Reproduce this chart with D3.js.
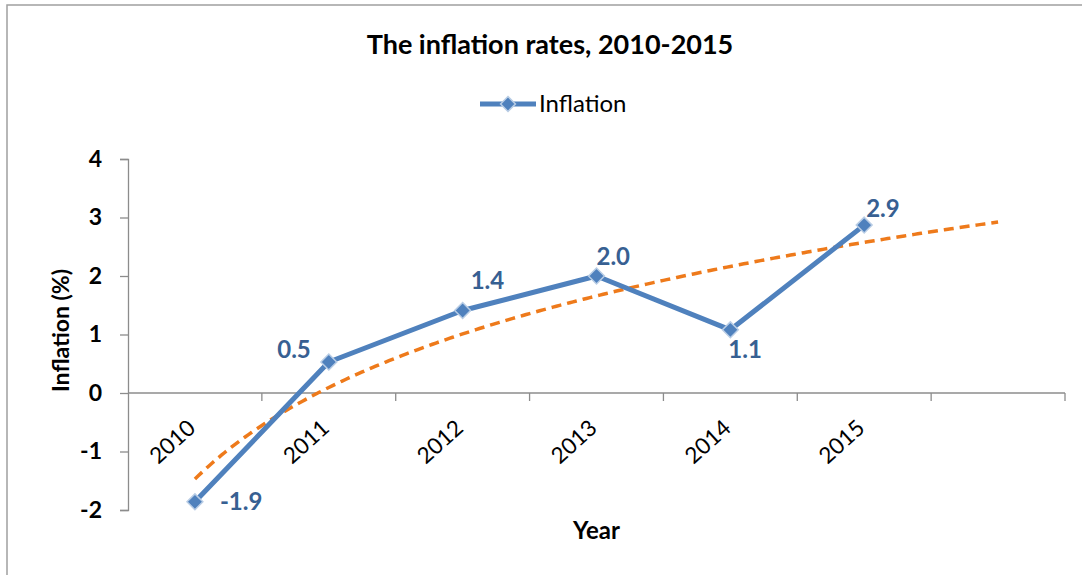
<!DOCTYPE html>
<html><head><meta charset="utf-8">
<script src="https://cdn.jsdelivr.net/npm/d3@7"></script>
<style>
html,body{margin:0;padding:0;background:#fff;}
svg{display:block;font-family:Lato,"Open Sans",sans-serif;}
</style></head>
<body><svg id="c" width="1082" height="575"></svg>
<script>
// ---- data ----
const years = ["2010","2011","2012","2013","2014","2015"];
const inflation = [-1.86, 0.53, 1.41, 2.0, 1.08, 2.87];
const forecastPeriods = 1;           // trendline forward forecast (one period)
const yTicks = [-2,-1,0,1,2,3,4];
const titleText = "The inflation rates, 2010-2015";
const seriesName = "Inflation";
const xTitle = "Year";
const yTitle = "Inflation (%)";

// ---- layout ----
const svg = d3.select("#c");
const L = 128, R = 1065, T = 159, B = 510;
const nSlots = years.length + forecastPeriods;
const x = d3.scaleBand().domain(d3.range(nSlots)).range([L, R]);
const y = d3.scaleLinear().domain([-2, 4]).range([B, T]);
const cx = i => x(i) + x.bandwidth()/2;
const fmt = v => d3.format(".1f")(v).replace("\u2212","-");
const diamond = d3.symbolDiamond2 ? d3.symbolDiamond2 : d3.symbolDiamond;

const blue = "#4F81BD", labelBlue = "#376092", orange = "#EE7A1B", axisCol = "#8C8C8C";

// chart border
svg.append("rect").attr("x",7).attr("y",5).attr("width",1200).attr("height",700)
  .attr("fill","none").attr("stroke","#A0A0A0").attr("stroke-width",1.5);

// title
svg.append("text").attr("x",550).attr("y",54).attr("text-anchor","middle")
  .attr("font-size",27).attr("font-weight","bold").attr("fill","#000").text(titleText);

// legend
const lg = svg.append("g");
lg.append("line").attr("x1",480).attr("x2",536).attr("y1",104).attr("y2",104)
  .attr("stroke",blue).attr("stroke-width",5);
lg.append("path").attr("d",d3.symbol(diamond, 140)())
  .attr("transform","translate(508,104)").attr("fill",blue).attr("stroke","#B9CDE5").attr("stroke-width",1.5);
lg.append("text").attr("x",539).attr("y",104).attr("dy","0.35em").attr("font-size",24)
  .attr("fill","#000").text(seriesName);

// y axis
const yAxis = svg.append("g").attr("transform",`translate(${L},0)`)
  .call(d3.axisLeft(y).tickValues(yTicks).tickSize(8).tickPadding(18).tickFormat(d => String(d)));
yAxis.select(".domain").attr("stroke",axisCol).attr("stroke-width",1.3);
yAxis.selectAll(".tick line").attr("stroke",axisCol).attr("stroke-width",1.3);
yAxis.selectAll(".tick text").attr("font-size",23).attr("font-weight","bold")
  .attr("fill","#000").attr("font-family","Lato,sans-serif");

// x axis at y=0
const y0 = y(0);
const xg = svg.append("g");
xg.append("line").attr("x1",L).attr("x2",R).attr("y1",y0).attr("y2",y0)
  .attr("stroke",axisCol).attr("stroke-width",1.3);
const bounds = d3.range(1, nSlots+1).map(i => i < nSlots ? x(i) : x(nSlots-1)+x.bandwidth());
xg.selectAll("line.tk").data(bounds).join("line").attr("class","tk")
  .attr("x1",d=>d).attr("x2",d=>d).attr("y1",y0).attr("y2",y0+8)
  .attr("stroke",axisCol).attr("stroke-width",1.3);
xg.selectAll("text.xl").data(years).join("text").attr("class","xl")
  .attr("transform",(d,i)=>`translate(${cx(i)+2},${y0+37}) rotate(-42)`)
  .attr("text-anchor","end").attr("font-size",22.5).attr("fill","#000").text(d=>d);

// axis titles
svg.append("text").attr("x",L + (R-L)/2).attr("y",539).attr("text-anchor","middle")
  .attr("font-size",24).attr("font-weight","bold").text(xTitle);
svg.append("text").attr("transform",`translate(69,${(T+B)/2-4}) rotate(-90)`).attr("text-anchor","middle")
  .attr("font-size",23).attr("font-weight","bold").text(yTitle);

// logarithmic trendline: least squares y = a ln(k) + b, k = 1..n
const ks = inflation.map((v,i)=>Math.log(i+1));
const mk = d3.mean(ks), mv = d3.mean(inflation);
const a = d3.sum(ks.map((k,i)=>(k-mk)*(inflation[i]-mv))) / d3.sum(ks.map(k=>(k-mk)*(k-mk)));
const b = mv - a*mk;
const tPts = d3.range(0, (nSlots-1)*40+1).map(j => { const t = 1 + j/40; return [cx(0) + (t-1)*x.step(), y(a*Math.log(t)+b)]; });
svg.append("path").attr("d",d3.line()(tPts)).attr("fill","none").attr("stroke",orange)
  .attr("stroke-width",3.5).attr("stroke-dasharray","10,6");

// series line
svg.append("path").datum(inflation).attr("d",d3.line().x((d,i)=>cx(i)).y(d=>y(d)))
  .attr("fill","none").attr("stroke",blue).attr("stroke-width",5).attr("stroke-linejoin","round");

// markers
svg.selectAll("path.mk").data(inflation).join("path").attr("class","mk")
  .attr("d",d3.symbol(diamond, 160)())
  .attr("transform",(d,i)=>`translate(${cx(i)},${y(d)})`)
  .attr("fill",blue).attr("stroke","#B9CDE5").attr("stroke-width",1.5);

// data labels
const labelPos = [[25,0,"start"],[-18,-13,"end"],[8,-30,"start"],[0,-20,"start"],[-2,20,"start"],[2,-17,"start"]];
svg.selectAll("text.dl").data(inflation).join("text").attr("class","dl")
  .attr("x",(d,i)=>cx(i)+labelPos[i][0]).attr("y",(d,i)=>y(d)+labelPos[i][1])
  .attr("text-anchor",(d,i)=>labelPos[i][2]).attr("dy","0.36em")
  .attr("font-size",24).attr("font-weight","bold").attr("fill",labelBlue)
  .text(d=>fmt(d));
</script></body></html>
